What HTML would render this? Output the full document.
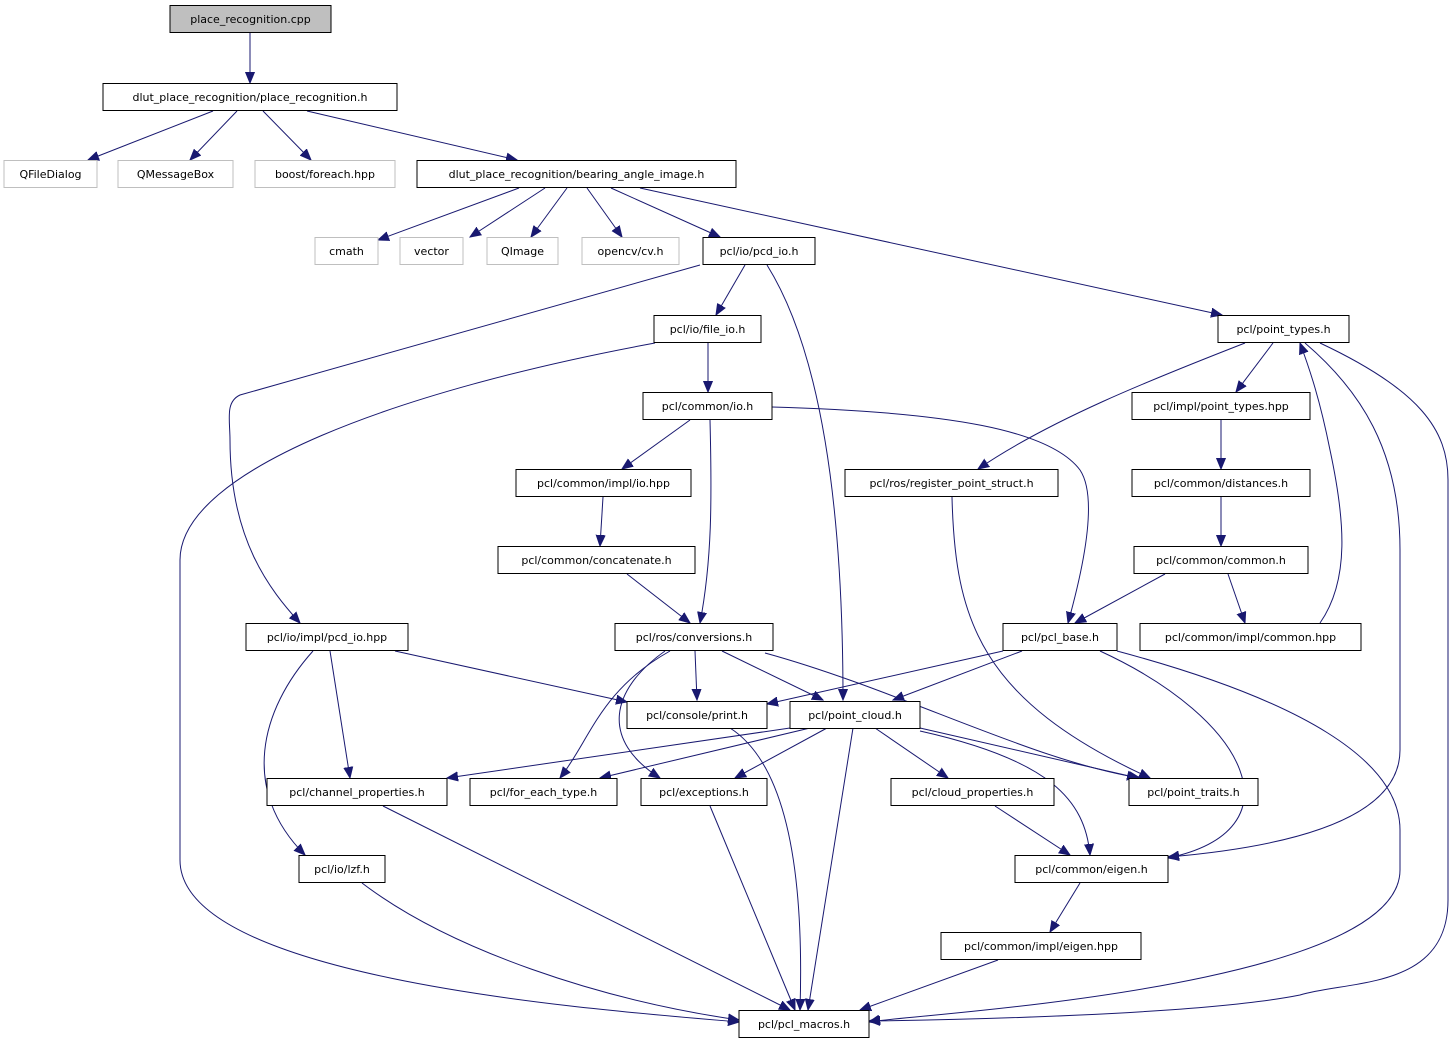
<!DOCTYPE html>
<html><head><meta charset="utf-8"><style>
html,body{margin:0;padding:0;background:#fff}
svg{display:block}
text{font-family:"DejaVu Sans","Liberation Sans",sans-serif;font-size:11px;fill:#000}
.n{fill:#fff;stroke:#000;stroke-width:1}
.g{fill:#fff;stroke:#bfbfbf;stroke-width:1}
.e{fill:none;stroke:#191970;stroke-width:1}
</style></head><body>
<svg width="1455" height="1045" viewBox="0 0 1455 1045" xmlns="http://www.w3.org/2000/svg">
<defs><marker id="a" markerUnits="userSpaceOnUse" markerWidth="12" markerHeight="10" refX="11" refY="5" orient="auto"><path d="M0,0.5 L11,5 L0,9.5 z" fill="#191970" stroke="#191970"/></marker></defs>
<g marker-end="url(#a)" class="e">
<path class="e" d="M250,33 L250,83"/>
<path class="e" d="M213,111 L88,160"/>
<path class="e" d="M237,111 L190,160"/>
<path class="e" d="M263,111 L311,160"/>
<path class="e" d="M307,111 L517,160"/>
<path class="e" d="M519,188 L378,240"/>
<path class="e" d="M545,188 L470,237"/>
<path class="e" d="M567,188 L531,237"/>
<path class="e" d="M587,188 L622,237"/>
<path class="e" d="M611,188 L720,237"/>
<path class="e" d="M640,188 L1222,315"/>
<path class="e" d="M745,265 L716,315"/>
<path class="e" d="M767,265 C820,350 843,500 843,700"/>
<path class="e" d="M700,265 L240,395 C225,402 230,420 230,440 C230,540 270,590 300,623"/>
<path class="e" d="M708,343 L708,392"/>
<path class="e" d="M655,343 C400,390 180,470 180,560 L180,860 C180,980 600,1010 739,1022"/>
<path class="e" d="M690,420 L622,469"/>
<path class="e" d="M710,420 C712,500 712,560 700,623"/>
<path class="e" d="M772,407 C950,412 1050,430 1080,470 C1100,500 1080,580 1068,623"/>
<path class="e" d="M603,497 L600,546"/>
<path class="e" d="M627,574 L690,623"/>
<path class="e" d="M1273,343 L1236,392"/>
<path class="e" d="M1245,343 C1150,380 1050,420 978,469"/>
<path class="e" d="M1305,343 C1360,390 1400,450 1400,550 L1400,750 C1400,830 1250,850 1168,857"/>
<path class="e" d="M1320,343 C1420,390 1448,430 1448,480 L1448,900 C1448,990 1350,980 1300,995 C1200,1015 950,1020 869,1021"/>
<path class="e" d="M1221,420 L1221,469"/>
<path class="e" d="M1221,497 L1221,546"/>
<path class="e" d="M1165,574 L1075,623"/>
<path class="e" d="M1228,574 L1245,623"/>
<path class="e" d="M1320,623 C1350,580 1345,520 1330,450 C1320,400 1310,370 1300,343"/>
<path class="e" d="M952,497 C955,620 980,700 1150,778"/>
<path class="e" d="M395,651 L627,702"/>
<path class="e" d="M330,651 L350,778"/>
<path class="e" d="M313,651 C260,710 240,790 305,855"/>
<path class="e" d="M695,651 L697,700"/>
<path class="e" d="M722,651 L823,700"/>
<path class="e" d="M765,653 C900,690 1030,760 1140,778"/>
<path class="e" d="M670,651 C600,690 590,740 560,778"/>
<path class="e" d="M665,651 C610,690 600,740 660,778"/>
<path class="e" d="M1003,651 L767,704"/>
<path class="e" d="M1022,651 L893,700"/>
<path class="e" d="M1100,651 C1250,720 1300,830 1168,858"/>
<path class="e" d="M1117,651 C1300,700 1400,760 1400,830 L1400,870 C1400,990 900,1015 869,1022"/>
<path class="e" d="M790,728 L447,778"/>
<path class="e" d="M810,728 L600,778"/>
<path class="e" d="M827,728 L735,778"/>
<path class="e" d="M875,728 L948,778"/>
<path class="e" d="M920,728 L1138,778"/>
<path class="e" d="M920,731 C1050,760 1085,800 1090,855"/>
<path class="e" d="M853,728 L808,1010"/>
<path class="e" d="M730,728 C780,760 805,850 800,1010"/>
<path class="e" d="M383,806 L790,1010"/>
<path class="e" d="M710,806 L795,1010"/>
<path class="e" d="M362,883 C450,950 600,1000 739,1020"/>
<path class="e" d="M995,806 L1070,855"/>
<path class="e" d="M1080,883 L1050,932"/>
<path class="e" d="M998,960 L860,1010"/>
</g>
<g text-anchor="middle">
<rect x="170" y="5.5" width="161" height="27" fill="#bfbfbf" stroke="#000"/><text x="250.5" y="23">place_recognition.cpp</text>
<rect class="n" x="103" y="83.5" width="294" height="27"/><text x="250" y="101">dlut_place_recognition/place_recognition.h</text>
<rect class="g" x="4" y="160.5" width="93" height="27"/><text x="50.5" y="178" style="fill:#000">QFileDialog</text>
<rect class="g" x="118" y="160.5" width="115" height="27"/><text x="175.5" y="178">QMessageBox</text>
<rect class="g" x="255" y="160.5" width="140" height="27"/><text x="325" y="178">boost/foreach.hpp</text>
<rect class="n" x="417" y="160.5" width="319" height="27"/><text x="576.5" y="178">dlut_place_recognition/bearing_angle_image.h</text>
<rect class="g" x="315" y="237.5" width="63" height="27"/><text x="346.5" y="255">cmath</text>
<rect class="g" x="400" y="237.5" width="63" height="27"/><text x="431.5" y="255">vector</text>
<rect class="g" x="487" y="237.5" width="71" height="27"/><text x="522.5" y="255">QImage</text>
<rect class="g" x="582" y="237.5" width="97" height="27"/><text x="630.5" y="255">opencv/cv.h</text>
<rect class="n" x="703" y="237.5" width="112" height="27"/><text x="759" y="255">pcl/io/pcd_io.h</text>
<rect class="n" x="1218" y="315.5" width="131" height="27"/><text x="1283.5" y="333">pcl/point_types.h</text>
<rect class="n" x="654" y="315.5" width="107" height="27"/><text x="707.5" y="333">pcl/io/file_io.h</text>
<rect class="n" x="643" y="392.5" width="129" height="27"/><text x="707.5" y="410">pcl/common/io.h</text>
<rect class="n" x="1132" y="392.5" width="178" height="27"/><text x="1221" y="410">pcl/impl/point_types.hpp</text>
<rect class="n" x="516" y="469.5" width="175" height="27"/><text x="603.5" y="487">pcl/common/impl/io.hpp</text>
<rect class="n" x="845" y="469.5" width="213" height="27"/><text x="951.5" y="487">pcl/ros/register_point_struct.h</text>
<rect class="n" x="1132" y="469.5" width="178" height="27"/><text x="1221" y="487">pcl/common/distances.h</text>
<rect class="n" x="498" y="546.5" width="197" height="27"/><text x="596.5" y="564">pcl/common/concatenate.h</text>
<rect class="n" x="1134" y="546.5" width="174" height="27"/><text x="1221" y="564">pcl/common/common.h</text>
<rect class="n" x="246" y="623.5" width="162" height="27"/><text x="327" y="641">pcl/io/impl/pcd_io.hpp</text>
<rect class="n" x="615" y="623.5" width="158" height="27"/><text x="694" y="641">pcl/ros/conversions.h</text>
<rect class="n" x="1003" y="623.5" width="114" height="27"/><text x="1060" y="641">pcl/pcl_base.h</text>
<rect class="n" x="1140" y="623.5" width="221" height="27"/><text x="1250.5" y="641">pcl/common/impl/common.hpp</text>
<rect class="n" x="627" y="701.5" width="140" height="27"/><text x="697" y="719">pcl/console/print.h</text>
<rect class="n" x="790" y="701.5" width="130" height="27"/><text x="855" y="719">pcl/point_cloud.h</text>
<rect class="n" x="267" y="778.5" width="180" height="27"/><text x="357" y="796">pcl/channel_properties.h</text>
<rect class="n" x="470" y="778.5" width="147" height="27"/><text x="543.5" y="796">pcl/for_each_type.h</text>
<rect class="n" x="641" y="778.5" width="126" height="27"/><text x="704" y="796">pcl/exceptions.h</text>
<rect class="n" x="891" y="778.5" width="163" height="27"/><text x="972.5" y="796">pcl/cloud_properties.h</text>
<rect class="n" x="1129" y="778.5" width="129" height="27"/><text x="1193.5" y="796">pcl/point_traits.h</text>
<rect class="n" x="299" y="855.5" width="86" height="27"/><text x="342" y="873">pcl/io/lzf.h</text>
<rect class="n" x="1015" y="855.5" width="153" height="27"/><text x="1091.5" y="873">pcl/common/eigen.h</text>
<rect class="n" x="941" y="932.5" width="200" height="27"/><text x="1041" y="950">pcl/common/impl/eigen.hpp</text>
<rect class="n" x="739" y="1010.5" width="130" height="27"/><text x="804" y="1028">pcl/pcl_macros.h</text>
</g>
</svg>
</body></html>
